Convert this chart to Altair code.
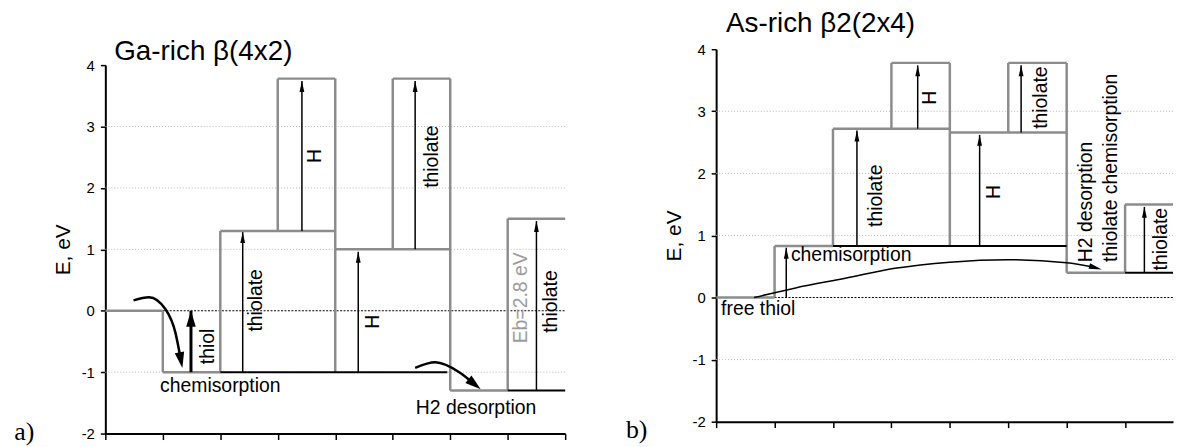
import math
import altair as alt
import pandas as pd

SANS = "Liberation Sans"
SERIF = "Liberation Serif"
GREY = "#8c8c8c"
LIGHT = "#9c9c9c"

y_tick_values = [-2, -1.5, -1, -0.5, 0, 0.5, 1, 1.5, 2, 2.5, 3, 3.5, 4]
grid_y = [-1, 1, 2, 3]

# ================= a) Ga-rich beta(4x2) =================
a_grey_x1 = [0, 1, 1, 2, 2, 3, 3, 4, 4, 5, 5, 6, 6, 7, 7]
a_grey_x2 = [1, 1, 2, 2, 4, 3, 4, 4, 6, 5, 6, 6, 7, 7, 8]
a_grey_y1 = [0, 0, -1, -1, 1.3, 1.3, 3.78, 3.78, 1.0, 1.0, 3.78, 3.78, -1.3, -1.3, 1.5]
a_grey_y2 = [0, -1, -1, 1.3, 1.3, 3.78, 3.78, -1, 1.0, 3.78, 3.78, -1.3, -1.3, 1.5, 1.5]

a_black_x1 = [2, 7]
a_black_x2 = [5.95, 8]
a_black_y = [-1, -1.3]

a_zero_x1 = [1]
a_zero_x2 = [8]

a_thiol_x = [1.49]
a_thiol_from = [-1]
a_thiol_to = [0.0]

a_arrow_x = [2.39, 3.42, 4.40, 5.39, 7.50]
a_arrow_from = [-1, 1.3, -1, 1.0, -1.3]
a_arrow_to = [1.28, 3.74, 0.96, 3.74, 1.46]

a_curve_id = [1, 1, 1, 1, 1, 2, 2, 2, 2]
a_curve_x = [0.49, 0.76, 1.05, 1.22, 1.31, 5.39, 5.74, 6.17, 6.40]
a_curve_y = [0.17, 0.22, 0.02, -0.36, -0.78, -0.93, -0.84, -1.01, -1.18]
a_head_x = [1.34, 6.53]
a_head_y = [-0.93, -1.28]

a_vlabel = ["thiol", "thiolate", "H", "H", "thiolate", "thiolate"]
a_vlabel_x = [1.78, 2.62, 3.64, 4.65, 5.69, 7.75]
a_vlabel_y = [-0.58, 0.17, 2.52, -0.18, 2.51, 0.15]

a_glabel = ["Eb=2.8 eV"]
a_glabel_x = [7.24]
a_glabel_y = [0.21]

a_hlabel = ["chemisorption", "H2 desorption"]
a_hlabel_x = [2.00, 6.45]
a_hlabel_y = [-1.22, -1.59]

a_title = ["Ga-rich β(4x2)"]
a_title_x = [0.155]
a_title_y = [4.22]

a_tag = ["a)"]
a_tag_x = [-1.41]
a_tag_y = [-1.98]

# ================= b) As-rich beta2(2x4) =================
b_grey_x1 = [0, 1, 1, 2, 2, 3, 3, 4, 4, 5, 5, 6, 6, 7, 7]
b_grey_x2 = [1, 1, 2, 2, 4, 3, 4, 4, 6, 5, 6, 6, 7, 7, 8]
b_grey_y1 = [0, 0, 0.83, 0.83, 2.72, 2.72, 3.78, 3.78, 2.66, 2.66, 3.78, 3.78, 0.4, 0.4, 1.5]
b_grey_y2 = [0, 0.83, 0.83, 2.72, 2.72, 3.78, 3.78, 0.83, 2.66, 3.78, 3.78, 0.4, 0.4, 1.5, 1.5]

b_black_x1 = [2, 7]
b_black_x2 = [6, 8]
b_black_y = [0.83, 0.4]

b_zero_x1 = [1]
b_zero_x2 = [8]

b_arrow_x = [1.20, 2.41, 3.45, 4.51, 5.22, 7.33]
b_arrow_from = [0, 0.83, 2.72, 0.83, 2.66, 0.4]
b_arrow_to = [0.80, 2.69, 3.74, 2.62, 3.74, 1.46]

b_curve_id = [1, 1, 1, 1, 1, 1, 1, 1]
b_curve_x = [0.65, 1.36, 2.21, 3.06, 4.00, 4.98, 6.00, 6.45]
b_curve_y = [0.00, 0.155, 0.31, 0.47, 0.57, 0.61, 0.56, 0.49]
b_head_x = [6.60]
b_head_y = [0.45]

b_vlabel = ["thiolate", "H", "H", "thiolate", "H2 desorption", "thiolate chemisorption", "thiolate"]
b_vlabel_x = [2.73, 3.66, 4.76, 5.56, 6.33, 6.76, 7.61]
b_vlabel_y = [1.64, 3.22, 1.70, 3.22, 1.54, 2.09, 0.94]

b_llabel = ["free thiol", "chemisorption"]
b_llabel_x = [0.085, 1.28]
b_llabel_y = [-0.18, 0.69]

b_title = ["As-rich β2(2x4)"]
b_title_x = [0.17]
b_title_y = [4.40]

b_tag = ["b)"]
b_tag_x = [-1.36]
b_tag_y = [-2.13]

# arrow head shapes (tip at the symbol origin, pointing up)
HEAD_THIN = "M0,0L-0.22,1L0.22,1Z"
HEAD_THICK = "M0,0L-0.3,1L0.3,1Z"


def head_angles(cx, cy, cid, hx, hy, ppx, ppy):
    """direction of the last curve segment into the arrow tip (degrees, clockwise from up)"""
    out = []
    ids = sorted(set(cid))
    for k, i in enumerate(ids):
        pts = [(x, y) for x, y, c in zip(cx, cy, cid) if c == i]
        lx, ly = pts[-1]
        dx = (hx[k] - lx) * ppx
        dy = -(hy[k] - ly) * ppy
        out.append(math.degrees(math.atan2(dx, -dy)) % 360)
    return out


AX_STYLE = dict(labelFont=SANS, labelFontSize=15, labelColor="black", labelPadding=6,
                tickColor="black", tickWidth=1.5, domainColor="black", domainWidth=2,
                titleFont=SANS, titleFontSize=21, titleFontWeight="normal",
                titleColor="black", titlePadding=8)


def panel(d):
    xs = alt.Scale(domain=d["xdom"], nice=False, zero=False)
    ys = alt.Scale(domain=[-2, 4], range=d["yrange"], nice=False, zero=False)
    x_axis = alt.Axis(values=d["xticks"], labels=False, grid=False, title=None, tickSize=6, **AX_STYLE)
    y_axis = alt.Axis(values=y_tick_values,
                      labelExpr="datum.value % 1 === 0 ? '' + datum.value : ''",
                      tickSize=5, grid=False, title="E, eV", **AX_STYLE)

    def X(f, first=False):
        return alt.X(f"{f}:Q", scale=xs, axis=x_axis) if first else alt.X(f"{f}:Q", scale=xs)

    def Y(f, first=False):
        return alt.Y(f"{f}:Q", scale=ys, axis=y_axis) if first else alt.Y(f"{f}:Q", scale=ys)

    clip = d["clip"]
    layers = []
    grid = pd.DataFrame({"y": grid_y, "x": [d["xdom"][0]] * len(grid_y), "x2": [d["xdom"][1]] * len(grid_y)})
    layers.append(alt.Chart(grid).mark_rule(color="#b8b8b8", strokeWidth=1, strokeDash=[1, 2])
                  .encode(x=X("x", True), x2="x2:Q", y=Y("y", True)))
    zero = pd.DataFrame({"x": d["zero"][0], "x2": d["zero"][1], "y": [0] * len(d["zero"][0])})
    layers.append(alt.Chart(zero).mark_rule(color="black", strokeWidth=1, strokeDash=[2, 1.5], clip=clip)
                  .encode(x=X("x"), x2="x2:Q", y=Y("y")))
    grey = pd.DataFrame({"x": d["grey"][0], "x2": d["grey"][1], "y": d["grey"][2], "y2": d["grey"][3]})
    layers.append(alt.Chart(grey).mark_rule(color=GREY, strokeWidth=2.5, clip=clip)
                  .encode(x=X("x"), x2="x2:Q", y=Y("y"), y2="y2:Q"))
    black = pd.DataFrame({"x": d["black"][0], "x2": d["black"][1], "y": d["black"][2]})
    layers.append(alt.Chart(black).mark_rule(color="black", strokeWidth=2, clip=clip)
                  .encode(x=X("x"), x2="x2:Q", y=Y("y")))

    arr = pd.DataFrame({"x": d["arrows"][0], "y": d["arrows"][1], "y2": d["arrows"][2]})
    layers.append(alt.Chart(arr).mark_rule(color="black", strokeWidth=1.5)
                  .encode(x=X("x"), y=Y("y"), y2="y2:Q"))
    layers.append(alt.Chart(arr).mark_point(shape=HEAD_THIN, filled=True, color="black",
                                            opacity=1, size=484, strokeWidth=0)
                  .encode(x=X("x"), y=Y("y2")))
    if d.get("thick"):
        th = pd.DataFrame({"x": d["thick"][0], "y": d["thick"][1], "y2": d["thick"][2]})
        layers.append(alt.Chart(th).mark_rule(color="black", strokeWidth=3)
                      .encode(x=X("x"), y=Y("y"), y2="y2:Q"))
        layers.append(alt.Chart(th).mark_point(shape=HEAD_THICK, filled=True, color="black",
                                               opacity=1, size=1024, strokeWidth=0)
                      .encode(x=X("x"), y=Y("y2")))

    cx, cy, cid, hx, hy = d["curve"]
    cur = pd.DataFrame({"x": cx, "y": cy, "id": cid, "i": list(range(len(cx)))})
    layers.append(alt.Chart(cur).mark_line(color="black", strokeWidth=d["curve_w"], interpolate="monotone")
                  .encode(x=X("x"), y=Y("y"), detail="id:N", order="i:Q"))
    ang = head_angles(cx, cy, cid, hx, hy, d["ppx"], d["ppy"])
    heads = pd.DataFrame({"x": hx, "y": hy, "a": ang})
    layers.append(alt.Chart(heads).mark_point(shape=d["curve_head"], filled=True, color="black",
                                              opacity=1, size=d["curve_head_size"], strokeWidth=0)
                  .encode(x=X("x"), y=Y("y"), angle=alt.Angle("a:Q", scale=None)))

    def texts(t, **kw):
        df = pd.DataFrame({"t": t[0], "x": t[1], "y": t[2]})
        return alt.Chart(df).mark_text(baseline="middle", **kw).encode(x=X("x"), y=Y("y"), text="t:N")

    layers.append(texts(d["vlabel"], angle=270, font=SANS, fontSize=19.5, color="black", align="center"))
    if d.get("glabel"):
        layers.append(texts(d["glabel"], angle=270, font=SANS, fontSize=19.5, color=LIGHT, align="center"))
    if d.get("hlabel"):
        layers.append(texts(d["hlabel"], font=SANS, fontSize=19.5, color="black", align="center"))
    if d.get("llabel"):
        layers.append(texts(d["llabel"], font=SANS, fontSize=19.5, color="black", align="left"))
    layers.append(texts(d["title"], font=SANS, fontSize=28, color="black", align="left"))
    layers.append(texts(d["tag"], font=SERIF, fontSize=26, color="black", align="center"))

    return alt.layer(*layers).properties(width=d["width"], height=d["height"])


A_W, A_H = 463, 387
pa = panel(dict(
    xdom=[0, 8], xticks=[0, 1, 2, 3, 4, 5, 6, 7, 8], yrange=[A_H, 16], width=A_W, height=A_H,
    ppx=A_W / 8, ppy=(A_H - 16) / 6, clip=False,
    grey=(a_grey_x1, a_grey_x2, a_grey_y1, a_grey_y2),
    zero=(a_zero_x1, a_zero_x2),
    black=(a_black_x1, a_black_x2, a_black_y),
    arrows=(a_arrow_x, a_arrow_from, a_arrow_to),
    thick=(a_thiol_x, a_thiol_from, a_thiol_to),
    curve=(a_curve_x, a_curve_y, a_curve_id, a_head_x, a_head_y),
    curve_w=2.5, curve_head=HEAD_THICK, curve_head_size=1024,
    vlabel=(a_vlabel, a_vlabel_x, a_vlabel_y),
    glabel=(a_glabel, a_glabel_x, a_glabel_y),
    hlabel=(a_hlabel, a_hlabel_x, a_hlabel_y),
    title=(a_title, a_title_x, a_title_y),
    tag=(a_tag, a_tag_x, a_tag_y),
))

B_DOM = 7.82
B_W, B_H = 460, 375
pb = panel(dict(
    xdom=[0, B_DOM], xticks=[0, 1, 2, 3, 4, 5, 6, 7], yrange=[B_H, 0], width=B_W, height=B_H,
    ppx=B_W / B_DOM, ppy=B_H / 6, clip=True,
    grey=(b_grey_x1, b_grey_x2, b_grey_y1, b_grey_y2),
    zero=(b_zero_x1, b_zero_x2),
    black=(b_black_x1, b_black_x2, b_black_y),
    arrows=(b_arrow_x, b_arrow_from, b_arrow_to),
    curve=(b_curve_x, b_curve_y, b_curve_id, b_head_x, b_head_y),
    curve_w=1.5, curve_head=HEAD_THIN, curve_head_size=676,
    vlabel=(b_vlabel, b_vlabel_x, b_vlabel_y),
    llabel=(b_llabel, b_llabel_x, b_llabel_y),
    title=(b_title, b_title_x, b_title_y),
    tag=(b_tag, b_tag_x, b_tag_y),
))

chart = (alt.hconcat(pa, pb, spacing=59)
         .properties(padding={"left": 6, "top": 1, "right": 0, "bottom": 0})
         .configure_view(stroke=None)
         .configure_axis(**AX_STYLE))

chart.save("out.html", embed_options={"renderer": "svg", "actions": False})
